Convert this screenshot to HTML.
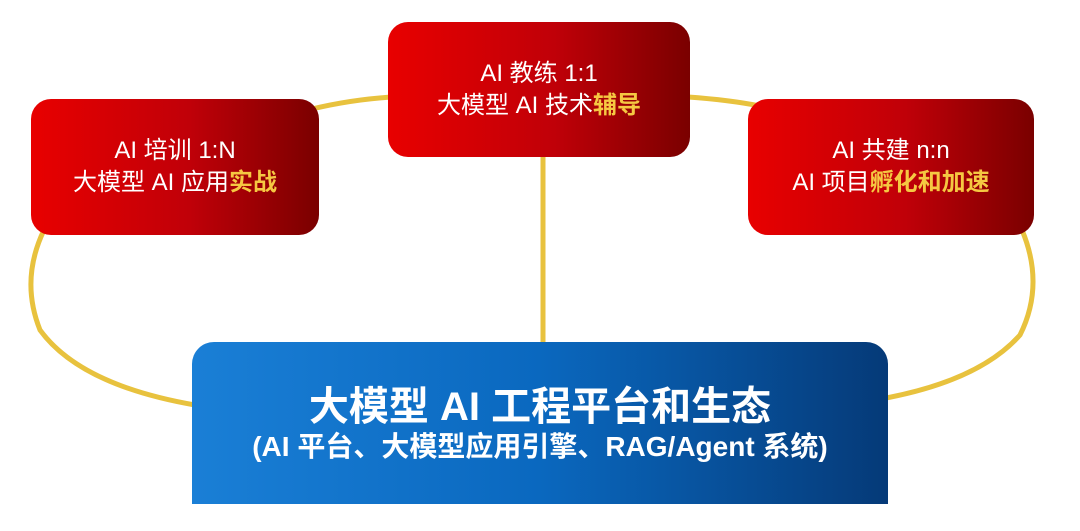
<!DOCTYPE html>
<html><head><meta charset="utf-8"><style>
body{margin:0;width:1080px;height:531px;background:#fff;position:relative;overflow:hidden;font-family:"Liberation Sans","Noto Sans CJK SC",sans-serif}
.r{position:absolute;border-radius:20px;background:linear-gradient(90deg,#e80000 0%,#c00008 55%,#7a0000 100%);color:#fff;text-align:center;font-size:24px;line-height:32px;display:flex;flex-direction:column;justify-content:center}
.r b{color:#f5c842}
.blue{position:absolute;left:192px;top:342px;width:696px;height:162px;border-radius:22px 22px 0 0;background:linear-gradient(90deg,#1a7fd6 0%,#0a68bf 50%,#053a78 100%);color:#fff;text-align:center;font-weight:bold}
</style></head><body>
<svg width="1080" height="531" style="position:absolute;left:0;top:0">
<g fill="none" stroke="#e8c23e" stroke-width="5">
<path d="M300 112 Q345 100 392 97"/>
<path d="M688 97 Q730 100 760 106"/>
<path d="M543 150 L543 345"/>
<path d="M44 230 Q20 280 40 330 Q80 385 195 405"/>
<path d="M1022 230 Q1045 285 1020 335 Q980 380 886 398"/>
</g></svg>
<div class="r" style="left:31px;top:99px;width:288px;height:136px"><div>AI 培训 1:N</div><div>大模型 AI 应用<b>实战</b></div></div>
<div class="r" style="left:388px;top:22px;width:302px;height:135px"><div>AI 教练 1:1</div><div>大模型 AI 技术<b>辅导</b></div></div>
<div class="r" style="left:748px;top:99px;width:286px;height:136px"><div>AI 共建 n:n</div><div>AI 项目<b>孵化和加速</b></div></div>
<div class="blue"><div style="font-size:40px;margin-top:42px;line-height:46px">大模型 AI 工程平台和生态</div><div style="font-size:28px;line-height:34px;margin-top:0">(AI 平台、大模型应用引擎、RAG/Agent 系统)</div></div>
</body></html>
